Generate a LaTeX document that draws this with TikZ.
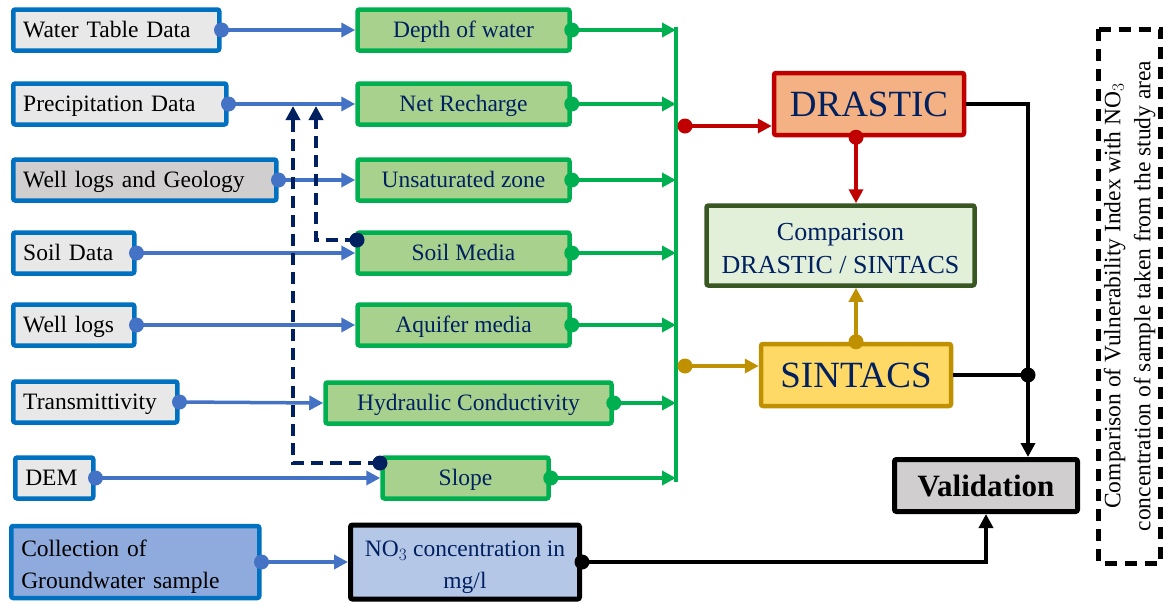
\documentclass[tikz,border=0pt]{standalone}
\usepackage{fontspec}
\setmainfont{Liberation Serif}
\usetikzlibrary{arrows.meta}

\definecolor{srcblue}{HTML}{0070C0}
\definecolor{srcgrey}{HTML}{E8E8E8}
\definecolor{srcdark}{HTML}{D0CECE}
\definecolor{colfill}{HTML}{8FAADC}
\definecolor{arrblue}{HTML}{4472C4}
\definecolor{facgreen}{HTML}{00B050}
\definecolor{facfill}{HTML}{A9D18E}
\definecolor{navy}{HTML}{002060}
\definecolor{drred}{HTML}{C00000}
\definecolor{drfill}{HTML}{F4B183}
\definecolor{cmpgreen}{HTML}{385723}
\definecolor{cmpfill}{HTML}{E2F0D9}
\definecolor{sngold}{HTML}{BF9000}
\definecolor{snfill}{HTML}{FFD966}
\definecolor{nofill}{HTML}{B4C7E7}

\begin{document}
\begin{tikzpicture}[x=1pt,y=-1pt,
    txt/.style={font=\fontsize{23.5}{28}\selectfont},
    line1/.style={text height=19pt, text depth=5pt},
    src/.style={txt, line1, draw=srcblue, line width=4.5pt, fill=srcgrey, rounded corners=2pt,
        anchor=west, minimum height=41pt, inner xsep=10pt, align=left},
    factor/.style={txt, line1, draw=facgreen, line width=4.5pt, fill=facfill, rounded corners=2pt,
        minimum height=41pt, text=navy},
    model/.style={font=\fontsize{37}{40}\selectfont, line width=4.5pt, rounded corners=2pt,
        minimum width=190pt, minimum height=62pt, text=navy},
    tip/.style={-{Triangle[length=14pt,width=14pt]}},
    bluearr/.style={tip, draw=arrblue, line width=3.5pt},
    greenarr/.style={tip, draw=facgreen, line width=3.5pt},
    redarr/.style={tip, draw=drred, line width=3.5pt},
    goldarr/.style={tip, draw=sngold, line width=3.5pt},
    blackarr/.style={tip, draw=black, line width=4.5pt},
    navydash/.style={tip, draw=navy, line width=4.5pt, dash pattern=on 12pt off 7pt},
    dot/.style={circle, inner sep=0pt, minimum size=15pt, fill=#1}
]
\useasboundingbox (0,0) rectangle (1164,603);

% data sources
\node[src, text width=186pt] (wt) at (11,30) {Water Table Data};
\node[src, text width=193pt] (pr) at (11,104) {Precipitation Data};
\node[src, fill=srcdark, text width=243pt] (wg) at (11,180) {Well logs and Geology};
\node[src, text width=101pt] (sd) at (11,253) {Soil Data};
\node[src, text width=101pt] (wl) at (11,325) {Well logs};
\node[src, text width=144pt] (tr) at (11,402) {Transmittivity};
\node[src, text width=58pt] (dem) at (13,478) {DEM};
\node[txt, draw=srcblue, line width=4.5pt, fill=colfill, rounded corners=2pt, anchor=west,
    inner xsep=10pt, align=left, text width=228pt, minimum height=72pt,
    font=\fontsize{23.5}{32}\selectfont] (col) at (9,562)
    {\rule{0pt}{26pt}Collection of\\Groundwater sample};

% parameters
\node[factor, minimum width=212pt] (dw) at (463.5,30) {Depth of water};
\node[factor, minimum width=212pt] (nr) at (463.5,104) {Net Recharge};
\node[factor, minimum width=212pt] (uz) at (463.5,180) {Unsaturated zone};
\node[factor, minimum width=212pt] (sm) at (463.5,253) {Soil Media};
\node[factor, minimum width=212pt] (am) at (463.5,325) {Aquifer media};
\node[factor, minimum width=286pt] (hc) at (468.5,403) {Hydraulic Conductivity};
\node[factor, minimum width=166pt] (sl) at (465.5,478) {Slope};
\node[txt, draw=black, line width=5pt, fill=nofill, rounded corners=2pt, text=navy,
    minimum width=229pt, minimum height=74pt, align=center,
    font=\fontsize{23.5}{32}\selectfont] (no) at (465,562)
    {\rule{0pt}{26pt}NO$_3$ concentration in\\mg/l};

% indices
\node[model, draw=drred, fill=drfill] (dr) at (869,104) {DRASTIC};
\node[model, draw=sngold, fill=snfill] (sn) at (856,375) {SINTACS};
\node[draw=cmpgreen, fill=cmpfill, line width=4.5pt, rounded corners=2pt, text=navy,
    minimum width=268pt, minimum height=80pt, align=center,
    font=\fontsize{26}{33}\selectfont] (cmp) at (840.5,245.5)
    {\rule{0pt}{24pt}Comparison\\DRASTIC / SINTACS};
\node[draw=black, fill=srcdark, line width=5pt, rounded corners=2pt,
    minimum width=183pt, minimum height=52pt,
    font=\fontsize{31}{34}\selectfont\bfseries] (val) at (986,485.5) {Validation};
\node[draw=black, line width=5pt, dash pattern=on 12pt off 8pt, rotate=90,
    minimum width=534pt, minimum height=62pt, inner sep=0pt, align=center,
    font=\fontsize{23.5}{30}\selectfont] (note) at (1129.5,296)
    {Comparison of Vulnerability Index with NO$_3$\\concentration of sample taken from the study area};

\coordinate (bus) at (676,0);
\coordinate (rj) at (685,126);
\coordinate (gj) at (685,366);
\coordinate (vx) at (1028,0);
\coordinate (smd) at (357,240);
\coordinate (sld) at (380,463);
\coordinate (j1) at (316,106);
\coordinate (j2) at (293,106);

% sources to parameters
\draw[bluearr] (wt.east) node[dot=arrblue]{} -- (dw.west);
\draw[bluearr] (pr.east) node[dot=arrblue]{} -- (nr.west);
\draw[bluearr] (wg.east) node[dot=arrblue]{} -- (uz.west);
\draw[bluearr] (sd.east) node[dot=arrblue]{} -- (sm.west);
\draw[bluearr] (wl.east) node[dot=arrblue]{} -- (am.west);
\draw[bluearr] (tr.east) node[dot=arrblue]{} -- (hc.west);
\draw[bluearr] (dem.east) node[dot=arrblue]{} -- (sl.west);
\draw[bluearr] (col.east) node[dot=arrblue]{} -- (no.west);

\draw[navydash] (smd) -| (j1);
\draw[navydash] (sld) -| (j2);
\node[dot=navy] at (smd) {};
\node[dot=navy] at (sld) {};

% parameters to bus
\draw[facgreen, line width=3.5pt] ([yshift=3pt]dw.east -| bus) -- ([yshift=-4pt]sl.east -| bus);
\foreach \p in {dw,nr,uz,sm,am,hc,sl}
    \draw[greenarr] (\p.east) node[dot=facgreen]{} -- (\p.east -| bus);

\draw[redarr] (rj) node[dot=drred]{} -- (rj -| dr.west);
\draw[goldarr] (gj) node[dot=sngold]{} -- (gj -| sn.west);
\draw[redarr] (dr.south -| sn.north) node[dot=drred]{} -- (sn.north |- cmp.north);
\draw[goldarr] (sn.north) node[dot=sngold]{} -- (sn.north |- cmp.south);

% validation
\draw[blackarr] (dr.east) -| (vx |- val.north);
\draw[black, line width=4.5pt] (sn.east) -- (sn.east -| vx) node[dot=black]{};
\draw[blackarr] (no.east) node[dot=black]{} -| (val.south);
\end{tikzpicture}
\end{document}
